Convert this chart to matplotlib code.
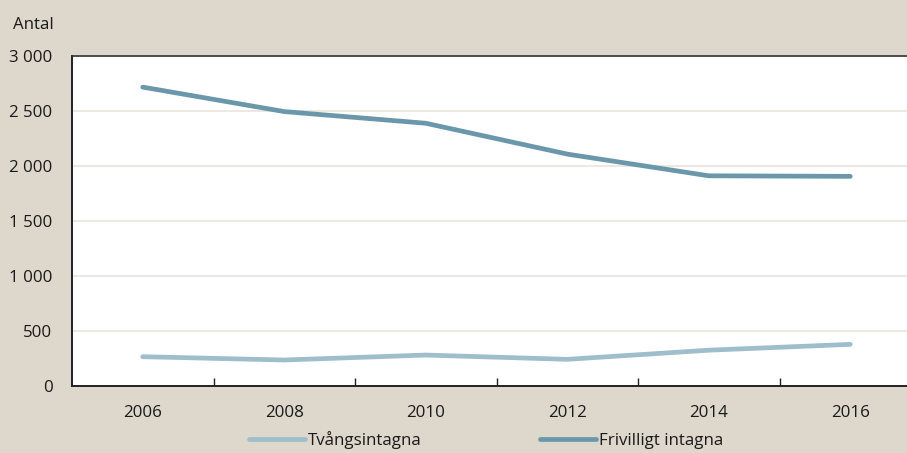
import matplotlib
matplotlib.use("Agg")
import matplotlib.pyplot as plt
from matplotlib.ticker import FuncFormatter, FixedLocator

years = ["2006", "2008", "2010", "2012", "2014", "2016"]
tvangsintagna = [266, 236, 281, 242, 325, 378]
frivilligt = [2713, 2491, 2385, 2105, 1908, 1903]
yticks = [0, 500, 1000, 1500, 2000, 2500, 3000]

plt.rcParams['font.family'] = ['Open Sans', 'DejaVu Sans']

bg = "#ddd7cc"
c_tv = "#9fbecb"
c_fr = "#6a97a9"
fs = 12.2
tc = "#1a1a1a"

fig = plt.figure(figsize=(9.07, 4.53), dpi=100, facecolor=bg)
W, H = 907, 453
ax = fig.add_axes([72 / W, (H - 386) / H, 849 / W, (386 - 55.5) / H])
ax.set_facecolor("white")

x = list(range(len(years)))
l1, = ax.plot(x, tvangsintagna, color=c_tv, lw=3.4, solid_capstyle="round",
              solid_joinstyle="round", label="Tvångsintagna")
l2, = ax.plot(x, frivilligt, color=c_fr, lw=3.4, solid_capstyle="round",
              solid_joinstyle="round", label="Frivilligt intagna")

ax.set_xlim(-0.5, len(years) - 0.5)
ax.set_ylim(0, 3000)
ax.set_yticks(yticks)
ax.yaxis.set_major_formatter(FuncFormatter(lambda v, p: f"{int(v):,}".replace(",", " ")))
ax.set_xticks(x)
ax.set_xticklabels(years)
ax.xaxis.set_minor_locator(FixedLocator([i + 0.5 for i in x]))
ax.tick_params(axis="x", which="major", length=0, pad=14, labelsize=fs, colors=tc)
ax.tick_params(axis="x", which="minor", length=6, direction="in", width=1, color="#222222")
ax.tick_params(axis="y", length=0, pad=14, labelsize=fs, colors=tc)

ax.grid(axis="y", color="#ebe6df", lw=1.3)
ax.set_axisbelow(True)
for s in ["left", "bottom"]:
    ax.spines[s].set_color("#222222")
    ax.spines[s].set_linewidth(1.4)
ax.spines["top"].set_color("#333333")
ax.spines["top"].set_linewidth(1.2)
ax.spines["right"].set_visible(False)

fig.text(13 / W, 1 - 25 / H, "Antal", fontsize=fs, color=tc, va="center", ha="left")

fig.legend(handles=[l1, l2], loc="center", bbox_to_anchor=(486 / W, 1 - 440 / H),
           ncol=2, frameon=False, fontsize=fs, handlelength=3.3, handletextpad=0.15,
           columnspacing=7.0, labelcolor=tc)

fig.savefig("out.png", dpi=100, facecolor=bg)
